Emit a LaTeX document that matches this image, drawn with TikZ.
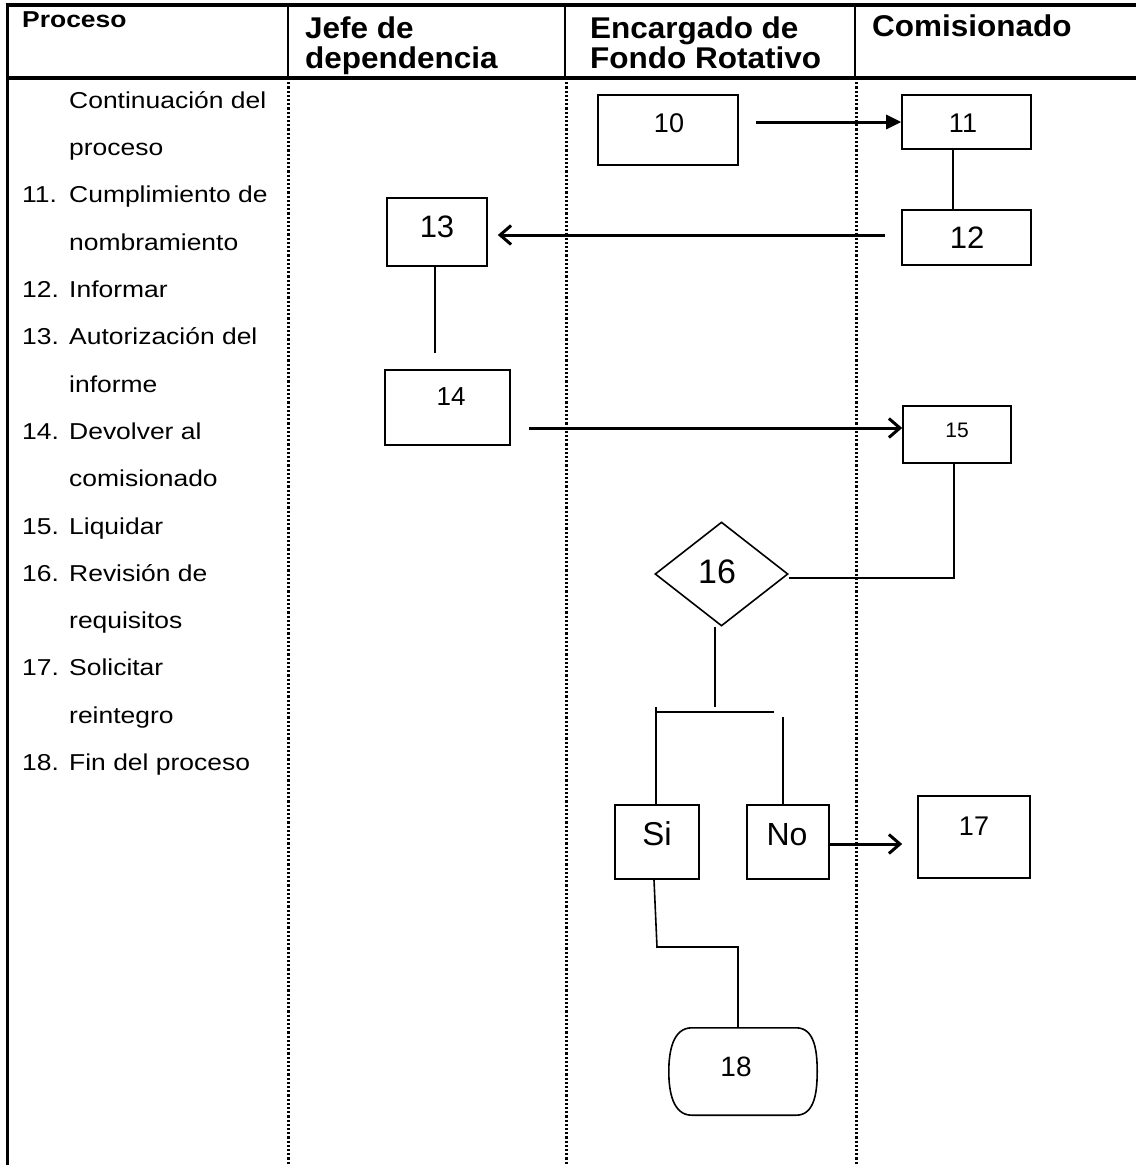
\documentclass[tikz,border=0pt]{standalone}
\usepackage{fontspec}
\setmainfont{Liberation Sans}
\newfontfamily\bodyf[FakeStretch=1.15]{Liberation Sans}
\newfontfamily\headf[FakeStretch=1.05]{Liberation Sans}
\newfontfamily\procf[FakeStretch=1.15]{Liberation Sans}
\usetikzlibrary{arrows.meta,shapes.geometric}
\begin{document}
\begin{tikzpicture}[x=1pt,y=-1pt,
  box/.style={draw, line width=1.6pt, rectangle, inner sep=0pt},
  num/.style={anchor=base, inner sep=0pt, font=\fontsize{#1}{#1}\selectfont},
  bodytxt/.style={anchor=base west, inner sep=0pt, font=\bodyf\fontsize{23}{23}\selectfont},
  hd/.style={anchor=base west, inner sep=0pt, font=\headf\bfseries\fontsize{30}{30}\selectfont},
  frame/.style={line width=3.5pt},
  lane/.style={line width=3pt, dash pattern=on 2.2pt off 2pt},
  conn/.style={line width=1.6pt},
  arrf/.style={line width=3pt, -{Triangle[length=15pt,width=14pt]}},
  arro/.style={line width=3pt, -{Straight Barb[length=11pt,width=19pt,line width=3pt]}}
]
\useasboundingbox (0,0) rectangle (1136,1165);

% frame
\draw[frame] (5.5,5) -- (1136,5);
\draw[frame] (5.5,78) -- (1136,78);
\draw[line width=3pt] (7,3.5) -- (7,1165);
\foreach \x in {288,565,855} \draw[line width=2.5pt] (\x,5) -- (\x,78);
\foreach \x in {288,566,856} \draw[lane] (\x,78) -- (\x,1165);

% headers
\node[anchor=base west, inner sep=0pt, font=\procf\bfseries\fontsize{23}{23}\selectfont] (hproc) at (22,27) {Proceso};
\node[hd] (hj1) at (305,38) {Jefe de};
\node[hd] (hj2) at (305,68) {dependencia};
\node[hd] (he1) at (590,38) {Encargado de};
\node[hd] (he2) at (590,68) {Fondo Rotativo};
\node[hd] (hc) at (872,36) {Comisionado};

% left column
\foreach \n/\t [count=\k from 0] in {{}/Continuación del, {}/proceso, 11./Cumplimiento de, {}/nombramiento, 12./Informar, 13./Autorización del, {}/informe, 14./Devolver al, {}/comisionado, 15./Liquidar, 16./Revisión de, {}/requisitos, 17./Solicitar, {}/reintegro, 18./Fin del proceso}{
  \node[bodytxt] (N\k) at (22,{108.3+47.3*\k}) {\n};
  \node[bodytxt] (L\k) at (69,{108.3+47.3*\k}) {\t};
}

% boxes
\node[box, minimum width=140pt, minimum height=70pt] (b10) at (668,130) {};
\node[box, minimum width=129pt, minimum height=54pt] (b11) at (966.5,122) {};
\node[box, minimum width=129pt, minimum height=55pt] (b12) at (966.5,237.5) {};
\node[box, minimum width=100pt, minimum height=68pt] (b13) at (437,232) {};
\node[box, minimum width=125pt, minimum height=75pt] (b14) at (447.5,407.5) {};
\node[box, minimum width=108pt, minimum height=57pt] (b15) at (957,434.5) {};
\node[draw, line width=1.6pt, diamond, inner sep=0pt, minimum width=133pt, minimum height=104pt] (d16) at (721.5,574) {};
\node[box, minimum width=84pt, minimum height=74pt] (bSi) at (657,842) {};
\node[box, minimum width=82pt, minimum height=74pt] (bNo) at (788,842) {};
\node[box, minimum width=112pt, minimum height=82pt] (b17) at (974,837) {};
\node[inner sep=0pt, minimum width=148pt, minimum height=87pt] (e18) at (743,1071.5) {};
\draw[line width=1.6pt] ([xshift=23pt]e18.north west) -- ([xshift=-21pt]e18.north east)
  to[out=0,in=90] (e18.east) to[out=-90,in=0] ([xshift=-21pt]e18.south east)
  -- ([xshift=23pt]e18.south west) to[out=180,in=-90] (e18.west) to[out=90,in=180] cycle;

% box texts
\node[num=27] (t10) at (669,132) {10};
\node[num=27] (t11) at (963,132) {11};
\node[num=31] (t12) at (967,248) {12};
\node[num=31] (t13) at (437,237) {13};
\node[num=26] (t14) at (451,405) {14};
\node[num=21] (t15) at (957,437) {15};
\node[num=34] (t16) at (717,583) {16};
\node[num=33] (tSi) at (657,845) {Si};
\node[num=32] (tNo) at (787,845) {No};
\node[num=27] (t17) at (974,835) {17};
\node[num=28] (t18) at (736,1076) {18};

% connectors
\draw[arrf, shorten <=17pt] (b10.east |- b11.west) -- (b11.west);
\draw[conn] ([xshift=-13.5pt]b11.south) -- ([xshift=-13.5pt]b12.north);
\coordinate (a12) at ([yshift=2.5pt]b12.west);
\draw[arro, shorten <=16pt, shorten >=10pt] (a12) -- (a12 -| b13.east);
\draw[conn, shorten >=16pt] ([xshift=-2pt]b13.south) -- ([xshift=-2pt]b13.south |- b14.north);
\coordinate (a15) at ([yshift=6.5pt]b15.west);
\draw[arro, shorten <=18pt] (a15 -| b14.east) -- (a15);
\draw[conn] ([xshift=-3pt]b15.south) |- ([yshift=-4pt]d16.east);
\coordinate (j1) at (715,707);
\coordinate (j2) at (656,712);
\coordinate (j3) at (774,712);
\coordinate (j4) at (783,717);
\draw[conn] (d16.south -| j1) -- (j1);
\draw[conn] (j2) -- (j3);
\draw[conn] (656,707) -- (bSi.north -| j2);
\draw[conn] (j4) -- (j4 |- bNo.north);
\coordinate (a17) at ([yshift=-2pt]bNo.east);
\draw[arro, shorten >=15pt] (a17) -- (a17 -| b17.west);
\coordinate (k1) at (657,947);
\draw[conn] ([xshift=-3pt]bSi.south) -- (k1) -| ([xshift=-5pt]e18.north);
\end{tikzpicture}
\end{document}
